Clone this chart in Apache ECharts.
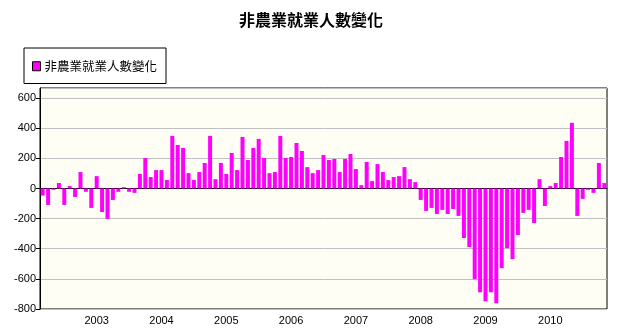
<!DOCTYPE html>
<html><head><meta charset="utf-8">
<script src="https://cdn.jsdelivr.net/npm/echarts@6/dist/echarts.min.js"></script>
<style>html,body{margin:0;padding:0;background:#fff}#c{width:622px;height:333px}</style>
</head><body><div id="c"></div>
<script>
var title = '非農業就業人數變化';
var seriesName = '非農業就業人數變化';
var startYear = 2002, startMonth = 3;
var values = [
  -47,-109,-9,36,-109,16,-56,109,-22,-129,
  82,-156,-202,-76,-22,9,-22,-29,96,202,76,122,
  122,56,349,289,269,102,56,109,169,349,62,169,
  96,236,122,342,189,269,329,202,102,109,349,202,
  209,302,249,142,102,122,222,189,196,109,196,229,
  129,22,176,49,162,109,56,76,82,142,62,42,
  -76,-149,-129,-169,-142,-169,-136,-182,-329,-389,-602,-689,
  -749,-689,-762,-529,-396,-469,-309,-162,-142,-229,62,-116,
  16,36,209,316,436,-182,-69,-9,-29,169,36
];
var yTicks = { min: -800, max: 667, interval: 200 };
var categories = [];
for (var i = 0; i < values.length; i++) {
  var m = startMonth - 1 + i;
  var y = startYear + Math.floor(m / 12);
  var mm = (m % 12) + 1;
  categories.push(y + '-' + (mm < 10 ? '0' + mm : mm));
}
var isJan = function (idx, val) { return String(val).slice(5) === '01'; };
var chart = echarts.init(document.getElementById('c'));
chart.setOption({
  animation: false,
  title: { text: title, left: 'center', top: 7,
    textStyle: { fontFamily: 'Noto Sans CJK TC', fontSize: 16, fontWeight: 'bold', color: '#000' } },
  legend: {
    data: [seriesName], left: 24, top: 48, orient: 'horizontal',
    backgroundColor: '#fff', borderColor: '#000', borderWidth: 1, borderRadius: 0,
    padding: [12, 9, 11, 8], itemWidth: 8, itemHeight: 9, itemGap: 0,
    icon: 'rect',
    itemStyle: { borderColor: '#000', borderWidth: 1 },
    textStyle: { fontFamily: 'Noto Sans CJK TC', fontSize: 12.5, color: '#000', padding: [0, 0, 0, -1] }
  },
  grid: { left: 40, right: 15, top: 88, bottom: 24, show: true,
    backgroundColor: '#fefef4', borderColor: '#000', borderWidth: 1 },
  xAxis: {
    type: 'category', data: categories, boundaryGap: true,
    axisLine: { lineStyle: { color: '#000', width: 1 } },
    axisTick: { alignWithLabel: true, interval: isJan, length: 4, lineStyle: { color: '#000' } },
    axisLabel: { interval: isJan, formatter: function (v) { return v.slice(0, 4); },
      fontFamily: 'Liberation Sans', fontSize: 11, color: '#000', margin: 6 },
    splitLine: { show: false }
  },
  yAxis: {
    type: 'value', min: yTicks.min, max: yTicks.max, interval: yTicks.interval,
    axisLine: { show: true, lineStyle: { color: '#000', width: 1 } },
    axisTick: { show: true, length: 4, lineStyle: { color: '#000' } },
    axisLabel: { showMaxLabel: false, fontFamily: 'Liberation Sans', fontSize: 11, color: '#000', margin: 4 },
    splitLine: { show: true, lineStyle: { color: '#c0c0c0', width: 1 } }
  },
  series: [{
    name: seriesName, type: 'bar', data: values, barCategoryGap: '26%',
    itemStyle: { color: '#ff00ff' }
  }]
});
</script></body></html>
